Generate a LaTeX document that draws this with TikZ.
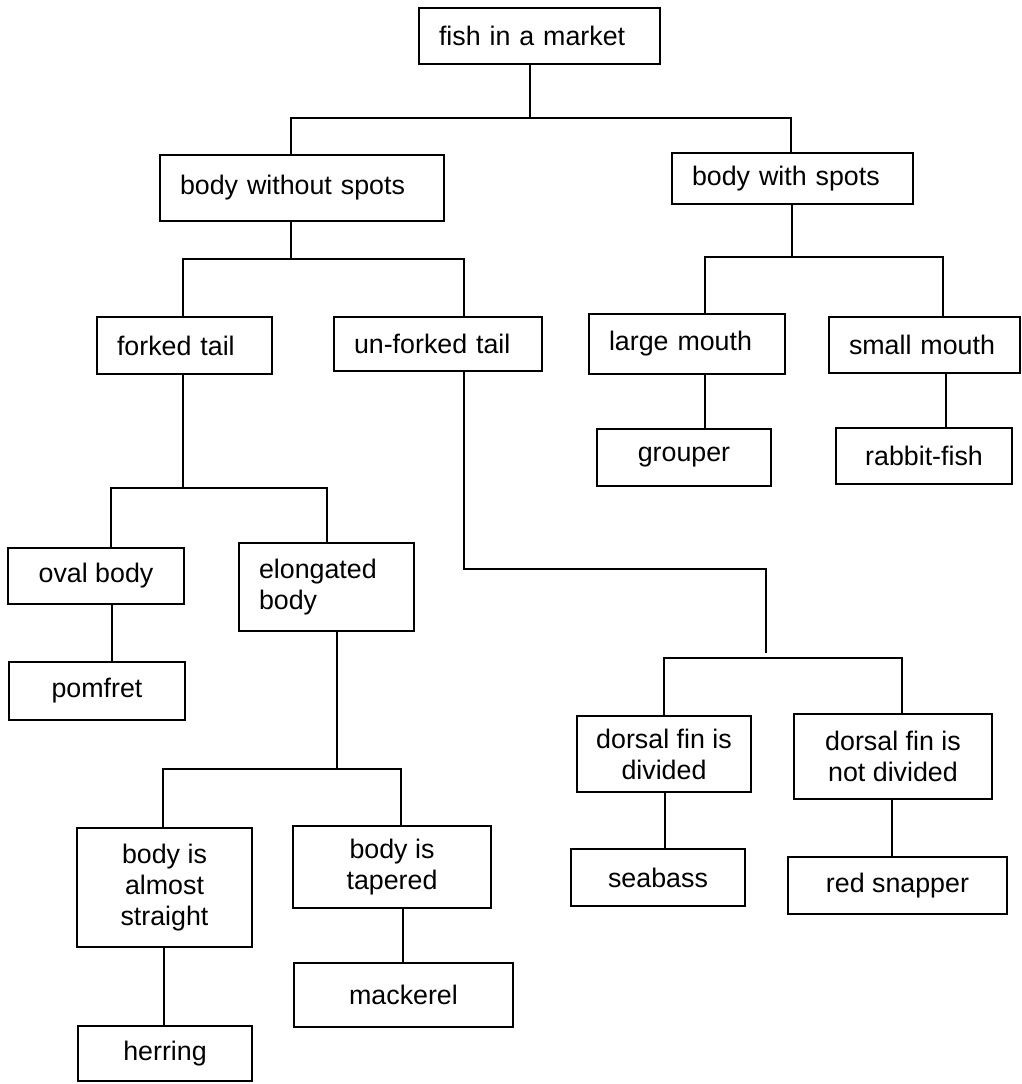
\documentclass[tikz,border=0pt]{standalone}
\usepackage{fontspec}
\setmainfont{Liberation Sans}
\begin{document}
\begin{tikzpicture}[x=1pt,y=-1pt,
  box/.style={draw=black, line width=1.7pt, inner ysep=0pt, inner xsep=0pt,
    font=\fontsize{26.8pt}{31pt}\selectfont, align=center},
  lbox/.style={inner xsep=20pt, text width=#1, align=left},
  conn/.style={draw=black, line width=1.7pt}]
\fill[white] (0,0) rectangle (1021,1084);
\useasboundingbox (0,0) rectangle (1021,1084);

% boxes
\node[box, lbox=201pt, minimum height=56pt] (fish) at (539.5,36) {fish in a market};
\node[box, lbox=244pt, minimum height=66pt] (bwos) at (302,188) {body without spots};
\node[box, lbox=201pt, minimum height=51pt] (bwsp) at (792.5,178.5) {body with spots};
\node[box, lbox=135pt, minimum height=57pt] (fork) at (184.5,345.5) {forked tail};
\node[box, lbox=168pt, minimum height=54pt] (unfork) at (438,344) {un-forked tail};
\node[box, lbox=156pt, minimum height=60pt] (large) at (687,344) {large mouth};
\node[box, lbox=151pt, minimum height=56pt] (small) at (924.5,345) {small mouth};
\node[box, minimum width=174pt, minimum height=57pt] (grouper) at (684,457.5) {grouper};
\node[box, minimum width=176pt, minimum height=56pt] (rabbit) at (924,456) {rabbit-fish};
\node[box, minimum width=176pt, minimum height=56pt] (oval) at (96,576) {oval body};
\node[box, lbox=135pt, minimum height=88pt] (elong) at (326.5,587) {elongated\\body};
\node[box, minimum width=176pt, minimum height=58pt] (pomfret) at (97,691) {pomfret};
\node[box, minimum width=175pt, minimum height=119pt] (straight) at (164.5,887.5) {body is\\almost\\straight};
\node[box, minimum width=198pt, minimum height=82pt] (tapered) at (392,867) {body is\\tapered};
\node[box, minimum width=174pt, minimum height=55pt] (herring) at (165,1053.5) {herring};
\node[box, minimum width=219pt, minimum height=64pt] (mackerel) at (403.5,995) {mackerel};
\node[box, minimum width=174pt, minimum height=76pt] (divided) at (664,754) {dorsal fin is\\divided};
\node[box, minimum width=198pt, minimum height=85pt] (notdiv) at (893,756.5) {dorsal fin is\\not divided};
\node[box, minimum width=174pt, minimum height=57pt] (seabass) at (658,877.5) {seabass};
\node[box, minimum width=219pt, minimum height=57pt] (redsnap) at (897.5,885.5) {red snapper};

% junction coordinates
\coordinate (a1) at (530,118); \coordinate (a1l) at (291,118); \coordinate (a1r) at (791,118);
\coordinate (a2) at (291,259); \coordinate (a2l) at (183,259); \coordinate (a2r) at (464,259);
\coordinate (a3) at (792,257); \coordinate (a3l) at (705,257); \coordinate (a3r) at (943,257);
\coordinate (x3) at (946,0);
\coordinate (a4) at (183,488); \coordinate (a4l) at (111,488); \coordinate (a4r) at (327,488);
\coordinate (x4) at (112,0);
\coordinate (a5) at (337,769); \coordinate (a5l) at (163,769); \coordinate (a5r) at (401,769);
\coordinate (x5l) at (164,0); \coordinate (x5r) at (403,0);
\coordinate (u1) at (464,569); \coordinate (u2) at (766,569); \coordinate (u3) at (766,653);
\coordinate (a6l) at (664,658); \coordinate (a6r) at (902,658);
\coordinate (x6l) at (665,0); \coordinate (x6r) at (892,0);

% connectors
\draw[conn] (fish.south -| a1) -- (a1);
\draw[conn] (bwos.north -| a1l) -- (a1l) -- (a1r) -- (bwsp.north -| a1r);

\draw[conn] (bwos.south -| a2) -- (a2);
\draw[conn] (fork.north -| a2l) -- (a2l) -- (a2r) -- (unfork.north -| a2r);

\draw[conn] (bwsp.south -| a3) -- (a3);
\draw[conn] (large.north -| a3l) -- (a3l) -- (a3r) -- (small.north -| a3r);
\draw[conn] (large.south -| a3l) -- (grouper.north -| a3l);
\draw[conn] (small.south -| x3) -- (rabbit.north -| x3);

\draw[conn] (fork.south -| a4) -- (a4);
\draw[conn] (oval.north -| a4l) -- (a4l) -- (a4r) -- (elong.north -| a4r);
\draw[conn] (oval.south -| x4) -- (pomfret.north -| x4);

\draw[conn] (elong.south -| a5) -- (a5);
\draw[conn] (straight.north -| a5l) -- (a5l) -- (a5r) -- (tapered.north -| a5r);
\draw[conn] (straight.south -| x5l) -- (herring.north -| x5l);
\draw[conn] (tapered.south -| x5r) -- (mackerel.north -| x5r);

\draw[conn] (unfork.south -| u1) -- (u1) -- (u2) -- (u3);
\draw[conn] (divided.north -| a6l) -- (a6l) -- (a6r) -- (notdiv.north -| a6r);
\draw[conn] (divided.south -| x6l) -- (seabass.north -| x6l);
\draw[conn] (notdiv.south -| x6r) -- (redsnap.north -| x6r);
\end{tikzpicture}
\end{document}
